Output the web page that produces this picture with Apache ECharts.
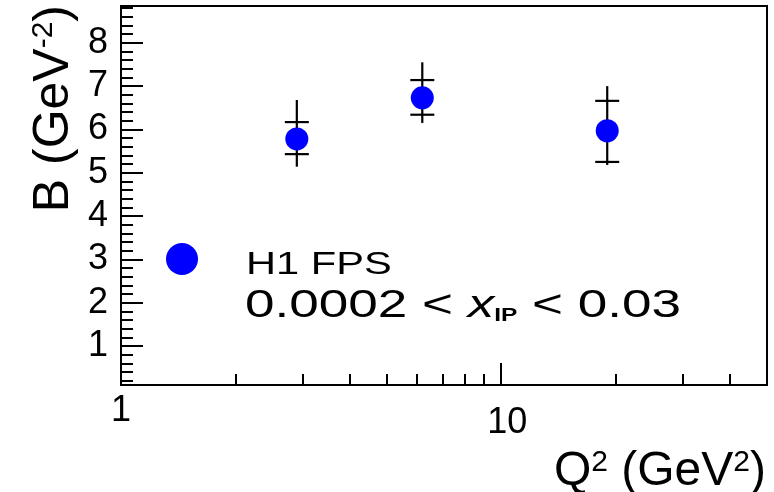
<!DOCTYPE html>
<html><head><meta charset="utf-8">
<script src="https://cdn.jsdelivr.net/npm/echarts@6/dist/echarts.min.js"></script>
<style>html,body{margin:0;padding:0;background:#fff}#c{width:774px;height:492px}</style>
</head><body><div id="c"></div>
<script>
// ---- data ----
const seriesName = 'H1 FPS';
const q2 = [2.9, 6.2, 19.0];
const bValues = [5.78, 6.73, 5.97];
const statUp = [0.39, 0.41, 0.69];
const statDown = [0.35, 0.39, 0.72];
const totUp = [0.90, 0.82, 1.03];
const totDown = [0.64, 0.58, 0.79];
const xTickLabels = [1, 10];
const xMinorTicks = [2, 3, 4, 5, 6, 7, 8, 9, 20, 30, 40];
const yTickLabels = [1, 2, 3, 4, 5, 6, 7, 8];
const rangeText = ['0.0002 < ', 'x', 'IP', ' < 0.03'];

const yMin = 0.1, yMax = 8.85;
const yMinor = [];
for (let v = 2; v <= 88; v += 2) { if (v % 10 !== 0) yMinor.push(v / 10); }

const points = q2.map((x, i) => [x, bValues[i]]);
const errData = q2.map((x, i) => [x, bValues[i], statUp[i], statDown[i], totUp[i], totDown[i]]);

const FONT = 'Liberation Sans, Arial, Helvetica, sans-serif';
const black = '#000';

const chart = echarts.init(document.getElementById('c'), null, {renderer: 'canvas'});
chart.setOption({
  animation: false,
  backgroundColor: '#fff',
  grid: {left: 121, right: 7, top: 6, bottom: 107, show: true, borderColor: black, borderWidth: 2,
         backgroundColor: 'transparent', containLabel: false, outerBoundsMode: 'none'},
  xAxis: [
    {type: 'log', logBase: 10, min: 1, max: 50, position: 'bottom',
     axisLine: {lineStyle: {color: black, width: 2}},
     axisTick: {inside: true, length: 22, lineStyle: {color: black, width: 2}},
     axisLabel: {color: black, fontFamily: FONT, fontSize: 36, margin: 8, showMaxLabel: false,
       formatter: function (v) {
         const r = Math.round(v);
         if (xTickLabels.indexOf(r) < 0) return '';
         return r >= 10 ? '{b|' + r + '}' : String(r);
       },
       rich: {b: {color: black, fontFamily: FONT, fontSize: 36, padding: [12, 0, 0, 12]}}},
     splitLine: {show: false}, minorTick: {show: false}},
    {type: 'log', logBase: 10, min: 1, max: 50, position: 'bottom',
     axisLine: {show: false},
     axisTick: {inside: true, length: 11, customValues: xMinorTicks, lineStyle: {color: black, width: 2}},
     axisLabel: {show: false}, splitLine: {show: false}}
  ],
  yAxis: [
    {type: 'value', min: yMin, max: yMax, position: 'left',
     axisLine: {show: true, lineStyle: {color: black, width: 2}},
     axisTick: {show: true, inside: true, length: 22, customValues: yTickLabels, lineStyle: {color: black, width: 2}},
     axisLabel: {color: black, fontFamily: FONT, fontSize: 36, margin: 13, customValues: yTickLabels},
     splitLine: {show: false}},
    {type: 'value', min: yMin, max: yMax, position: 'left', offset: 0,
     axisLine: {show: false},
     axisTick: {show: true, inside: true, length: 12, customValues: yMinor, lineStyle: {color: black, width: 2}},
     axisLabel: {show: false}, splitLine: {show: false}}
  ],
  series: [
    {type: 'custom', name: 'errors', xAxisIndex: 0, yAxisIndex: 0, z: 2,
     encode: {x: 0, y: 1},
     data: errData,
     renderItem: function (params, api) {
       const x = api.value(0), y = api.value(1);
       const c = api.coord([x, y]);
       const tTop = api.coord([x, y + api.value(4)]);
       const tBot = api.coord([x, y - api.value(5)]);
       const sTop = api.coord([x, y + api.value(2)]);
       const sBot = api.coord([x, y - api.value(3)]);
       const hw = 12;
       const st = {stroke: black, lineWidth: 2.2};
       return {type: 'group', children: [
         {type: 'line', shape: {x1: c[0], y1: tTop[1], x2: c[0], y2: tBot[1]}, style: st},
         {type: 'line', shape: {x1: c[0] - hw, y1: sTop[1], x2: c[0] + hw, y2: sTop[1]}, style: st},
         {type: 'line', shape: {x1: c[0] - hw, y1: sBot[1], x2: c[0] + hw, y2: sBot[1]}, style: st}
       ]};
     }},
    {type: 'scatter', name: seriesName, xAxisIndex: 0, yAxisIndex: 0, z: 5,
     symbol: 'circle', symbolSize: 23, itemStyle: {color: '#0000ff', opacity: 1},
     data: points}
  ],
  graphic: [
    {type: 'circle', shape: {cx: 182, cy: 259, r: 16}, style: {fill: '#0000ff'}, z: 10},
    {type: 'text', x: 246, y: 265, scaleX: 1.3, z: 10,
     style: {text: seriesName, fill: black, fontFamily: FONT, fontSize: 32, align: 'left', verticalAlign: 'middle', textAlign: 'left', textVerticalAlign: 'middle'}},
    {type: 'text', x: 245, y: 306, scaleX: 1.36, z: 10,
     style: {text: '{a|' + rangeText[0] + '}{x|' + rangeText[1] + '}{s|' + rangeText[2] + '}{a|' + rangeText[3] + '}',
       fill: black, fontFamily: FONT, fontSize: 39, align: 'left', verticalAlign: 'middle', textAlign: 'left', textVerticalAlign: 'middle',
       rich: {
         a: {fontFamily: FONT, fontSize: 39, fill: black, color: black},
         x: {fontFamily: FONT, fontSize: 39, fontStyle: 'italic', fill: black, color: black},
         s: {fontFamily: FONT, fontSize: 18, fontWeight: 'bold', fill: black, color: black, verticalAlign: 'bottom'}
       }}},
    {type: 'text', x: 54, y: 5, rotation: Math.PI / 2, z: 10,
     style: {text: '{n|B (GeV}{s|-2}{n|)}', fill: black, fontFamily: FONT, fontSize: 50,
       align: 'right', verticalAlign: 'middle', textAlign: 'right', textVerticalAlign: 'middle',
       rich: {
         n: {fontFamily: FONT, fontSize: 50, fill: black, color: black},
         s: {fontFamily: FONT, fontSize: 30, fill: black, color: black, verticalAlign: 'top'}
       }}},
    {type: 'text', x: 766, y: 472, z: 10,
     style: {text: '{n|Q}{s|2}{n| (GeV}{s|2}{n|)}', fill: black, fontFamily: FONT, fontSize: 48,
       align: 'right', verticalAlign: 'middle', textAlign: 'right', textVerticalAlign: 'middle',
       rich: {
         n: {fontFamily: FONT, fontSize: 48, fill: black, color: black},
         s: {fontFamily: FONT, fontSize: 30, fill: black, color: black, verticalAlign: 'top'}
       }}}
  ]
});
</script>
</body></html>
